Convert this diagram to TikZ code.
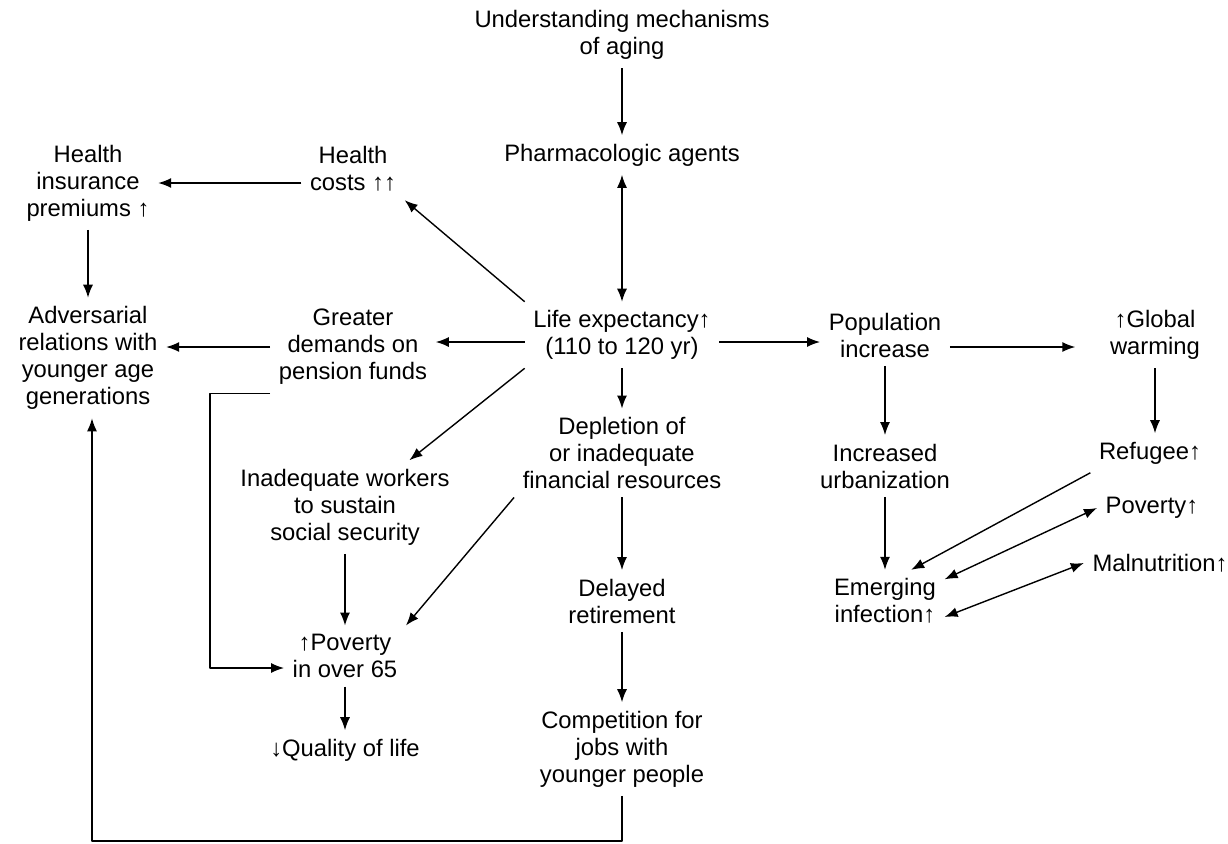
\documentclass[tikz,border=0pt]{standalone}
\usepackage{fontspec}
\setmainfont{Liberation Sans}
\usetikzlibrary{arrows.meta}
\newcommand\up{↑}
\newcommand\dn{↓}
\begin{document}
\begin{tikzpicture}[x=0.5pt,y=-0.5pt,>={Latex[length=6.5pt,width=5pt]},line width=0.7pt,line join=round,
		font=\fontsize{11.9}{13.5}\selectfont,
		every node/.style={align=center,inner sep=4pt}]
			\useasboundingbox (0,0) rectangle (1228,843);
			\node (U) at (622,35) {Understanding mechanisms\\of aging};
			\node (P) at (622,155) {Pharmacologic agents};
			\node (HC) at (353,169) {Health\\costs \up\up};
			\node (HI) at (88,183) {Health\\insurance\\premiums \up};
			\node (AR) at (88,358) {Adversarial\\relations with\\younger age\\generations};
			\node (GD) at (353,347) {Greater\\demands on\\pension funds};
			\node (LE) at (622,335) {Life expectancy\up\\(110 to 120 yr)};
			\node (PI) at (885,335) {Population\\increase};
			\node (GW) at (1155,335) {\up Global\\warming};
			\node (DF) at (622,453) {Depletion of\\or inadequate\\financial resources};
			\node (IW) at (345,507) {Inadequate workers\\to sustain\\social security};
			\node (IU) at (885,466) {Increased\\urbanization};
			\node (RF) at (1150,453) {Refugee\up};
			\node (PV) at (1152,508) {Poverty\up};
			\node (MN) at (1160,563) {Malnutrition\up};
			\node (EI) at (885,601) {Emerging\\infection\up};
			\node (PO) at (345,656) {\up Poverty\\in over 65};
			\node (DR) at (622,601) {Delayed\\retirement};
			\node (QL) at (345,750) {\dn Quality of life};
			\node (CJ) at (622,749) {Competition for\\jobs with\\younger people};
			\coordinate (B) at (92,841);
			\draw[->] (U) -- (P);
			\draw[<->] (P) -- (LE);
			\draw[->] (LE.north west) -- (HC.south east);
			\draw[->] (HI.east -| HC.west) -- (HI.east);
			\draw[->] (HI) -- (AR);
			\draw[->] ([yshift=-3.5pt]LE.west) -- ([yshift=-3.5pt]LE.west -| GD.east);
			\draw[->] (GD.west) -- (GD.west -| AR.east);
			\draw[->] ([yshift=-3.5pt]LE.east) -- ([yshift=-3.5pt]LE.east -| PI.west);
			\draw[->,shorten >=13pt] ([yshift=-6pt]PI.east) -- ([yshift=-6pt]PI.east -| GW.west);
			\draw[->] (PI) -- (IU);
			\draw[->] (GW) -- (GW |- RF.north);
			\draw[->] (LE) -- (DF);
			\draw[->] (LE.south west) -- (IW.36);
			\draw[->] (DF.south west) -- (PO.north east);
			\draw[->] (IW) -- (PO);
			\draw[->] (GD.south west) -- ++(-60,0) |- ([yshift=-6pt]PO.west);
			\draw[->] (PO) -- (QL);
			\draw[->] (DF) -- (DR);
			\draw[->] (DR) -- (CJ);
			\draw[->] (CJ.south) |- (B) -- (AR.south -| B);
			\draw[->] (IU) -- (EI);
			\draw[->] (RF.south west) -- (EI.50);
			\draw[<->] (PV.west) -- (EI.20);
			\draw[<->] (MN.west) -- (EI.-15);
		\end{tikzpicture}
\end{document}
